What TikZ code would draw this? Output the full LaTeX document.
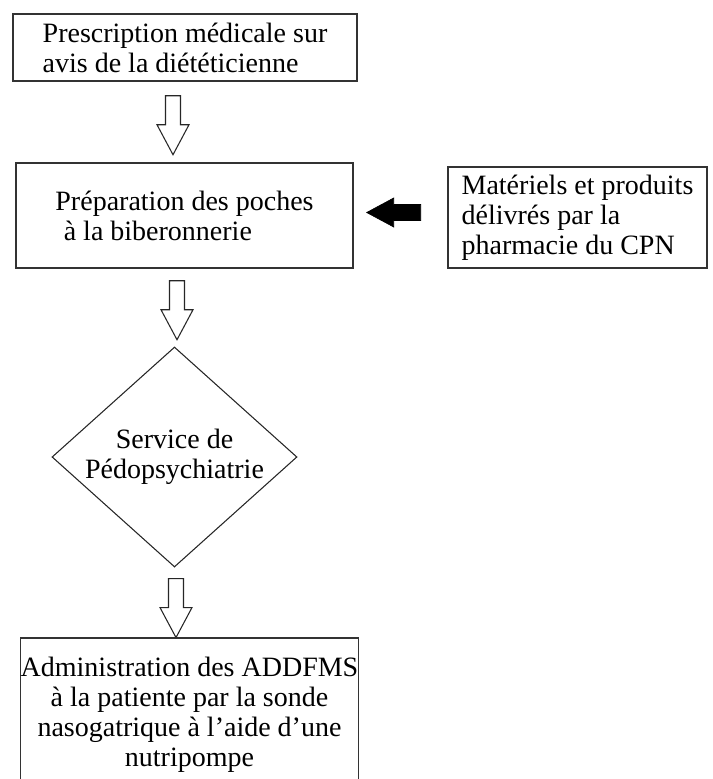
\documentclass[tikz,border=0pt]{standalone}
\usepackage{fontspec}
\setmainfont{Liberation Serif}
\usetikzlibrary{shapes.geometric}

\begin{document}
\begin{tikzpicture}[x=0.75pt,y=-0.75pt,
    % styles
    flow box/.style={draw=black!80,line width=1.1pt,inner sep=0pt,
      font=\fontsize{21}{22.5}\selectfont},
    service/.style={diamond,draw=black!85,line width=0.8pt,inner sep=0pt,
      aspect=1.11,minimum width=183.75pt,minimum height=165pt,
      font=\fontsize{21}{22.5}\selectfont,align=center},
    hollow arrow/.style={draw=black!85,line width=0.8pt,fill=white},
    supply arrow/.style={fill=black,draw=black,line width=0.5pt}]

  % frame
  \useasboundingbox (0,0) rectangle (713,779);
  \clip (0,0) rectangle (713,779);

  % boxes
  \node[flow box,minimum width=258pt,minimum height=50.25pt,align=left]
    (prescription) at (185,47.5)
    {Prescription médicale sur\\avis de la diététicienne};
  \node[flow box,minimum width=252.75pt,minimum height=78.75pt,align=left]
    (preparation) at (184.5,215.5)
    {Préparation des poches\\\hspace{0.3em}à la biberonnerie};
  \node[flow box,minimum width=194.25pt,minimum height=75.75pt,align=left]
    (pharmacie) at (577.5,217.5)
    {Matériels et produits\\délivrés par la\\pharmacie du CPN};
  \node[service] (pedopsy) at (174.5,457)
    {Service de\\Pédopsychiatrie};
  \node[flow box,minimum width=252.75pt,minimum height=115.5pt,align=center]
    (administration) at (189.5,715)
    {Administration des ADDFMS\\à la patiente par la sonde\\nasogatrique à l’aide d’une\\nutripompe};

  % hollow arrows
  \path (prescription.south) ++(-12,14) coordinate (a1);
  \path (preparation.south) ++(-7.5,12) coordinate (a2);
  \path (pedopsy.south) ++(1.5,11) coordinate (a3);
  \foreach \a in {a1,a2,a3}
    \draw[hollow arrow] (\a) ++(-7.5,0) -- ++(15,0) -- ++(0,29) -- ++(8.5,0)
      -- ++(-16,30) -- ++(-16,-30) -- ++(8.5,0) -- cycle;

  % supply arrow
  \path (preparation.east) ++(13,-3) coordinate (tip);
  \draw[supply arrow] (tip) -- ++(27,-14.5) -- ++(0,6.5) -- ++(27,0)
    -- ++(0,16) -- ++(-27,0) -- ++(0,6.5) -- cycle;
\end{tikzpicture}
\end{document}
